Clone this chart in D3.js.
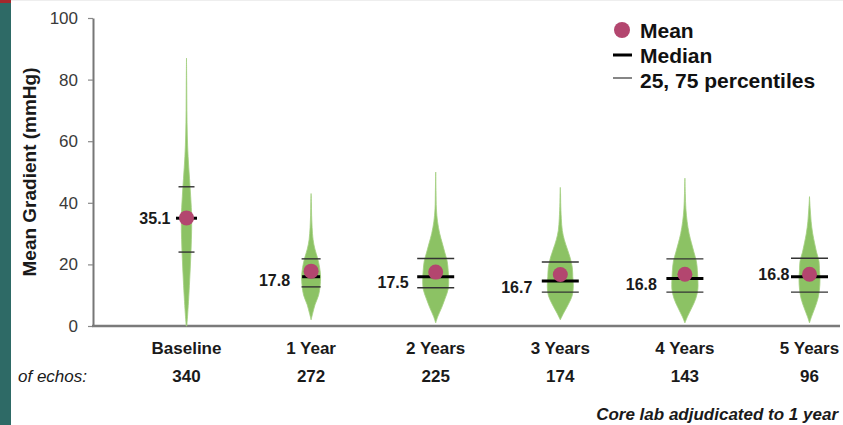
<!DOCTYPE html>
<html>
<head>
<meta charset="utf-8">
<script src="https://cdn.jsdelivr.net/npm/d3@7"></script>
<style>
  html, body { margin: 0; padding: 0; background: #fff; }
  svg { display: block; font-family: "Liberation Sans", Arial, sans-serif; }
</style>
</head>
<body>
<svg id="chart" width="843" height="425"></svg>
<script>
// Follow-up time points and echo counts
const categories = ["Baseline", "1 Year", "2 Years", "3 Years", "4 Years", "5 Years"];
const echoCounts = [340, 272, 225, 174, 143, 96];

// Summary statistics of the mean gradient (mmHg)
const means   = [35.1, 17.8, 17.5, 16.7, 16.8, 16.8];
const medians = [35.0, 16.0, 16.0, 14.6, 15.4, 16.0];
const p25     = [24.0, 12.7, 12.4, 11.0, 11.0, 11.0];
const p75     = [45.2, 21.8, 21.9, 20.8, 21.8, 22.0];

// Density profiles for each violin: [gradient value, relative density]
const densBaseline = [[0,0.3],[3,1],[8,2],[15,3.2],[22,4.2],[28,4.9],[35,5.2],[42,4.2],[48,3],[55,1.6],[62,0.8],[70,0.4],[78,0.25],[87,0]];
const dens1Year  = [[2,0],[4,1.5],[7,4],[10,7.5],[13,9],[16,9.5],[19,8.5],[22,6.5],[25,3.8],[28,2],[32,1],[36,0.5],[40,0.3],[43,0]];
const dens2Years = [[1,0],[3,2],[6,6],[9,9.5],[12,12.5],[15,13],[18,12.5],[21,11.5],[24,9],[27,6.5],[30,4],[34,1.8],[38,0.7],[44,0.3],[50,0]];
const dens3Years = [[2,0],[4,3],[7,8],[10,12],[13,13],[16,12.5],[19,12],[22,10],[25,7],[28,4],[31,2],[35,1],[40,0.4],[43,0.25],[45,0]];
const dens4Years = [[1,0],[3,2.5],[6,7],[9,11],[12,13],[15,13],[18,12.5],[21,11.5],[24,9],[27,6.5],[30,4.2],[34,2.2],[38,1],[43,0.4],[48,0]];
const dens5Years = [[1,0],[3,2],[6,5.5],[9,8.5],[12,10],[15,10.5],[18,10],[21,9.5],[24,7],[27,5],[30,3.2],[34,1.6],[38,0.7],[42,0]];
const densities = [densBaseline, dens1Year, dens2Years, dens3Years, dens4Years, dens5Years];

const yTicks = [0, 20, 40, 60, 80, 100];

// Layout: half-widths of the summary bars and label offsets
const pctHalf = [8, 9.5, 18.5, 18.5, 18.5, 18.5];
const medHalf = [10.5, 9, 18.5, 18.5, 18.5, 18.5];
const labelDx = [-16, -21, -27, -28, -28, -20];
const labelDy = [6, 15, 16, 18, 16, 6];

const svg = d3.select("#chart");

// Frame accent on the left edge
svg.append("rect").attr("x", 0).attr("y", 0).attr("width", 11).attr("height", 425).attr("fill", "#2e6a66");
svg.append("rect").attr("x", 0).attr("y", 0).attr("width", 11).attr("height", 3).attr("fill", "#a3282c");
svg.append("rect").attr("x", 11).attr("y", 0).attr("width", 832).attr("height", 1).attr("fill", "#eeeeee");

const x = d3.scalePoint().domain(categories).range([186.5, 809.5]);
const y = d3.scaleLinear().domain([0, 100]).range([326, 18]);
const w = d3.scaleLinear().domain([0, 13]).range([0, 13]);

// Y axis
const yAxis = svg.append("g")
  .attr("transform", "translate(93,0)")
  .call(d3.axisLeft(y).tickValues(yTicks).tickSize(5).tickSizeOuter(0).tickPadding(10));
yAxis.select(".domain").attr("stroke", "#777").attr("stroke-width", 2);
yAxis.selectAll(".tick line").attr("stroke", "#888").attr("stroke-width", 1.2);
yAxis.selectAll(".tick text")
  .attr("fill", "#3a3a3a")
  .style("font-size", "17px")
  .style("font-family", "'Liberation Sans', Arial, sans-serif");

// X axis baseline
svg.append("line")
  .attr("x1", 92).attr("x2", 840)
  .attr("y1", y(0)).attr("y2", y(0))
  .attr("stroke", "#7a7a7a").attr("stroke-width", 2.5);

// Y axis title
svg.append("text")
  .attr("transform", `translate(36,${(y(0) + y(100)) / 2}) rotate(-90)`)
  .attr("text-anchor", "middle")
  .attr("font-weight", "bold")
  .attr("font-size", 19)
  .attr("fill", "#1a1a1a")
  .text("Mean Gradient (mmHg)");

// Violins
const area = d3.area()
  .curve(d3.curveCatmullRom)
  .y(d => y(d[0]));

const groups = svg.selectAll("g.violin")
  .data(categories)
  .join("g")
  .attr("class", "violin");

groups.append("path")
  .attr("d", (c, i) => area
      .x0(d => x(c) - w(d[1]))
      .x1(d => x(c) + w(d[1]))(densities[i]))
  .attr("fill", "#8cc264")
  .attr("stroke", "#a3cf80")
  .attr("stroke-width", 0.8);

// Percentile bars, median bar, mean dot and value label per time point
groups.each(function (c, i) {
  const g = d3.select(this);
  [p25[i], p75[i]].forEach(v => {
    g.append("line")
      .attr("x1", x(c) - pctHalf[i]).attr("x2", x(c) + pctHalf[i])
      .attr("y1", y(v)).attr("y2", y(v))
      .attr("stroke", "#333").attr("stroke-width", 1.4);
  });
  g.append("line")
    .attr("x1", x(c) - medHalf[i]).attr("x2", x(c) + medHalf[i])
    .attr("y1", y(medians[i])).attr("y2", y(medians[i]))
    .attr("stroke", "#000").attr("stroke-width", 3);
  g.append("circle")
    .attr("cx", x(c)).attr("cy", y(means[i]))
    .attr("r", 7.5)
    .attr("fill", "#b3466f");
  g.append("text")
    .attr("x", x(c) + labelDx[i])
    .attr("y", y(means[i]) + labelDy[i])
    .attr("text-anchor", "end")
    .attr("font-weight", "bold")
    .attr("font-size", 16)
    .attr("fill", "#1a1a1a")
    .text(means[i].toFixed(1));
});

// Category labels and echo counts
svg.selectAll("text.cat")
  .data(categories)
  .join("text")
  .attr("class", "cat")
  .attr("x", d => x(d))
  .attr("y", 354)
  .attr("text-anchor", "middle")
  .attr("font-weight", "bold")
  .attr("font-size", 17)
  .attr("fill", "#1a1a1a")
  .text(d => d);

svg.selectAll("text.count")
  .data(echoCounts)
  .join("text")
  .attr("class", "count")
  .attr("x", (d, i) => x(categories[i]))
  .attr("y", 382)
  .attr("text-anchor", "middle")
  .attr("font-weight", "bold")
  .attr("font-size", 17)
  .attr("fill", "#1a1a1a")
  .text(d => d);

svg.append("text")
  .attr("x", 18).attr("y", 382)
  .attr("font-style", "italic")
  .attr("font-size", 17)
  .attr("fill", "#1a1a1a")
  .text("of echos:");

svg.append("text")
  .attr("x", 838).attr("y", 420)
  .attr("text-anchor", "end")
  .attr("font-style", "italic")
  .attr("font-weight", "bold")
  .attr("font-size", 17)
  .attr("fill", "#1a1a1a")
  .text("Core lab adjudicated to 1 year");

// Legend
const legend = svg.append("g").attr("transform", "translate(613,0)");
legend.append("circle").attr("cx", 9).attr("cy", 30).attr("r", 8).attr("fill", "#b3466f");
legend.append("line").attr("x1", 0).attr("x2", 19).attr("y1", 55).attr("y2", 55)
  .attr("stroke", "#000").attr("stroke-width", 3);
legend.append("line").attr("x1", 0).attr("x2", 19).attr("y1", 78).attr("y2", 78)
  .attr("stroke", "#444").attr("stroke-width", 1.3);
const legendLabels = ["Mean", "Median", "25, 75 percentiles"];
legend.selectAll("text")
  .data(legendLabels)
  .join("text")
  .attr("x", 27)
  .attr("y", (d, i) => 38 + i * 25)
  .attr("font-weight", "bold")
  .attr("font-size", 21)
  .attr("fill", "#111")
  .text(d => d);
</script>
</body>
</html>
